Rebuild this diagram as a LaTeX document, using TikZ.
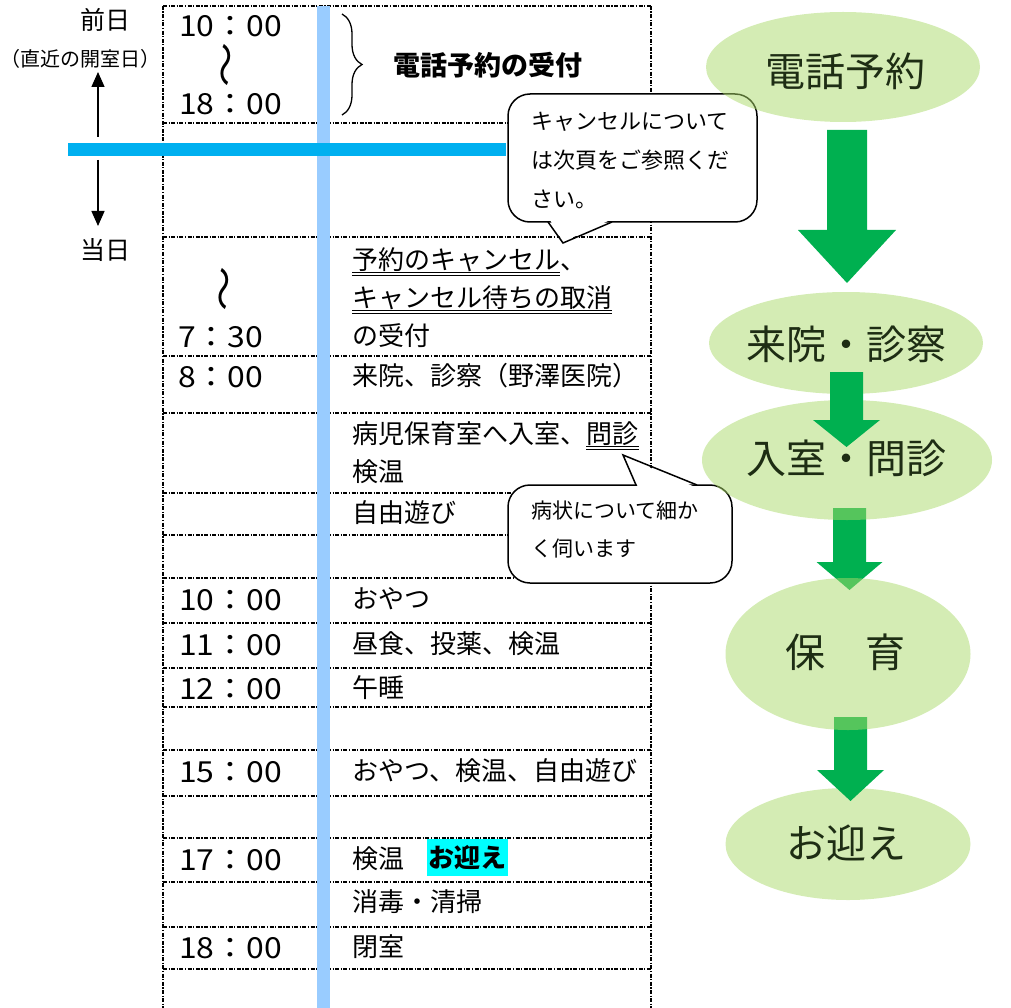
\documentclass[tikz,border=0pt]{standalone}
\usepackage{fontspec}
\setmainfont{Noto Sans CJK JP}
\newfontfamily\timefont[FakeStretch=1.1]{Noto Sans CJK JP}
\usetikzlibrary{shapes.geometric,decorations.pathreplacing,arrows.meta}
\definecolor{barblue}{HTML}{99CCFF}
\definecolor{linecyan}{HTML}{00B0F0}
\definecolor{flowgreen}{HTML}{00B050}
\definecolor{ellgreen}{RGB}{170,218,105}
\definecolor{hlcyan}{HTML}{00FFFF}
\definecolor{elltext}{RGB}{30,45,20}
\newcommand\flowarrow[6]{\fill[flowgreen] (#1-#3,#2) -- (#1+#3,#2) -- (#1+#3,#4) -- (#1+#5,#4) -- (#1,#6) -- (#1-#5,#4) -- (#1-#3,#4) -- cycle;}
\begin{document}
\begin{tikzpicture}[x=1pt,y=-1pt,
  rowline/.style={line width=1.2pt, dash pattern=on 4pt off 1.5pt on 1.2pt off 1.5pt},
  jtxt/.style={inner sep=0pt, anchor=west, text height=22.9pt, text depth=3.1pt, font=\fontsize{26}{30}\selectfont},
  ttxt/.style={inner sep=0pt, anchor=west, text height=25.5pt, text depth=3.5pt, font=\fontsize{29}{32}\selectfont\timefont},
  wave/.style={inner sep=0pt, rotate=90, xscale=1.25, font=\fontsize{36}{38}\selectfont},
  sidetxt/.style={inner sep=0pt, text height=22pt, text depth=3pt, font=\fontsize{25}{30}\selectfont},
  subtxt/.style={inner sep=0pt, text height=17.6pt, text depth=2.4pt, font=\fontsize{20}{24}\selectfont},
  uline/.style={line width=1.1pt},
  callbox/.style={draw=black, line width=1.5pt, fill=white, rounded corners=22pt, inner sep=0pt},
  callline/.style={draw=black, line width=1.5pt, line join=miter},
  calltxt/.style={inner sep=0pt, anchor=west, text height=19.4pt, text depth=2.6pt, font=\fontsize{22}{26}\selectfont},
  calltxtb/.style={inner sep=0pt, anchor=west, text height=18.5pt, text depth=2.5pt, font=\fontsize{21}{24}\selectfont},
  flowell/.style={ellipse, fill=ellgreen, fill opacity=0.5, inner sep=0pt},
  flowtxt/.style={inner sep=0pt, text=elltext, text height=35.2pt, text depth=4.8pt, font=\fontsize{40}{44}\selectfont},
  thinarrow/.style={line width=1.4pt, -{Triangle[length=15pt,width=13pt]}}
]
\useasboundingbox (0,0) rectangle (1011,1008);

% ---------- table ----------
\foreach \yy in {6,123,237,356,413,493,535,578,623,668,707,750,796,838,882,927,969}
  \draw[rowline] (163,\yy) -- (651,\yy);
\draw[rowline] (163,6) -- (163,1008);
\draw[rowline] (651,6) -- (651,1008);
\fill[barblue] (317,6) rectangle (330,1008);

% ---------- left labels ----------
\node[sidetxt] (prev) at (105,20) {前日};
\node[subtxt] (prevsub) at (80,59) {（直近の開室日）};
\node[sidetxt] (today) at (105,250) {当日};
\fill[linecyan] (68,143) rectangle (506,156);
\coordinate (upS) at (98,137);
\coordinate (upE) at (98,72);
\coordinate (dnS) at (98,160);
\coordinate (dnE) at (98,226);
\draw[thinarrow] (upS) -- (upE);
\draw[thinarrow] (dnS) -- (dnE);

% ---------- times ----------
\node[ttxt] (t1) at (179,26) {10：00};
\node[wave] (w1) at (230,65) {〜};
\node[ttxt] (t2) at (179,104) {18：00};
\node[wave] (w2) at (228,289) {〜};
\node[ttxt] (t3) at (178,336) {7：30};
\node[ttxt] (t4) at (178,376) {8：00};
\node[ttxt] (t5) at (179,599) {10：00};
\node[ttxt] (t6) at (179,644) {11：00};
\node[ttxt] (t7) at (179,688) {12：00};
\node[ttxt] (t8) at (179,771) {15：00};
\node[ttxt] (t9) at (179,859) {17：00};
\node[ttxt] (t10) at (179,947) {18：00};

% ---------- activities ----------
\draw[decorate, decoration={brace, amplitude=20pt, aspect=0.5}, line width=1.3pt] (342,14) -- (342,115);
\node[jtxt, text height=23.8pt, text depth=3.2pt, font=\fontsize{27}{30}\selectfont\bfseries] (tel) at (393,65) {電話予約の受付};

\node[jtxt] (a1) at (352,260) {予約のキャンセル};
\node[jtxt] (a1b) at (a1.east) {、};
\draw[uline] ([yshift=1pt]a1.south west) -- ([yshift=1pt]a1.south east);
\draw[uline] ([yshift=-2pt]a1.south west) -- ([yshift=-2pt]a1.south east);
\node[jtxt] (a2) at (352,298) {キャンセル待ちの取消};
\draw[uline] ([yshift=1pt]a2.south west) -- ([yshift=1pt]a2.south east);
\draw[uline] ([yshift=-2pt]a2.south west) -- ([yshift=-2pt]a2.south east);
\node[jtxt] (a3) at (352,336) {の受付};
\node[jtxt] (a4) at (352,376) {来院、診察（野澤医院）};
\node[jtxt] (a5) at (352,434) {病児保育室へ入室、};
\node[jtxt] (a5b) at (a5.east) {問診};
\draw[uline] ([yshift=1pt]a5b.south west) -- ([yshift=1pt]a5b.south east);
\draw[uline] ([yshift=-2pt]a5b.south west) -- ([yshift=-2pt]a5b.south east);
\node[jtxt] (a6) at (352,472) {検温};
\node[jtxt] (a7) at (352,513) {自由遊び};
\node[jtxt] (a8) at (352,599) {おやつ};
\node[jtxt] (a9) at (352,644) {昼食、投薬、検温};
\node[jtxt] (a10) at (352,688) {午睡};
\node[jtxt] (a11) at (352,771) {おやつ、検温、自由遊び};
\node[jtxt] (a12) at (352,859) {検温};
\node[jtxt, fill=hlcyan, inner xsep=1.5pt, inner ysep=5.5pt, font=\fontsize{26}{30}\selectfont\bfseries] (a12b) at (427,857.5) {お迎え};
\node[jtxt] (a13) at (352,902) {消毒・清掃};
\node[jtxt] (a14) at (352,947) {閉室};

% ---------- callouts ----------
\node[callbox, minimum width=249pt, minimum height=128pt] (cb1) at (632.5,158) {};
\fill[white] (550,220) -- (563,242) -- (610,220) -- cycle;
\draw[callline] (548,222) -- (563,243) -- (612,222);
\node[calltxt] (cb1l1) at (531,121) {キャンセルについて};
\node[calltxt] (cb1l2) at (531,160) {は次頁をご参照くだ};
\node[calltxt] (cb1l3) at (531,199) {さい。};

\node[callbox, minimum width=224pt, minimum height=98pt] (cb2) at (620,534) {};
\fill[white] (638,487) -- (623,456) -- (695,487) -- cycle;
\draw[callline] (636,485) -- (623,455) -- (697,485);
\node[calltxtb] (cb2l1) at (531,510) {病状について細か};
\node[calltxtb] (cb2l2) at (531,548) {く伺います};

% ---------- flow ----------
\node[flowell, minimum width=274pt, minimum height=110pt] (e1) at (843,67) {};
\flowarrow{847}{130}{20}{230}{49}{283}
\flowarrow{849.5}{508}{16.5}{562}{33}{590}
\node[flowell, minimum width=274pt, minimum height=102pt] (e2) at (846,343) {};
\node[flowell, minimum width=290pt, minimum height=120pt] (e3) at (847,460) {};
\flowarrow{846.5}{372}{16.5}{420}{33.5}{447}
\node[flowell, minimum width=245pt, minimum height=112pt] (e5) at (848,844) {};
\flowarrow{850.5}{717}{16.5}{770}{33.5}{801}
\node[flowell, minimum width=245pt, minimum height=152pt] (e4) at (848,654) {};

\node[flowtxt] (f1) at (845,71) {電話予約};
\node[flowtxt] (f2) at (846,344) {来院・診察};
\node[flowtxt] (f3) at (846,458) {入室・問診};
\node[flowtxt] (f4) at (845,652) {保　育};
\node[flowtxt] (f5) at (846,843) {お迎え};
\end{tikzpicture}
\end{document}
